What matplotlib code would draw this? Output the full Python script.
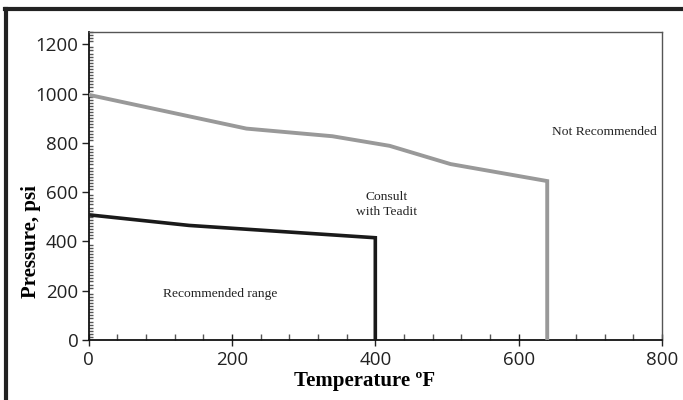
import matplotlib
matplotlib.use("Agg")
import matplotlib.pyplot as plt
from matplotlib.ticker import MultipleLocator
from matplotlib.lines import Line2D

# Data
gray_temp = [0, 220, 340, 420, 505, 640, 640]
gray_pres = [995, 858, 827, 788, 714, 645, 0]
black_temp = [0, 140, 400, 400]
black_pres = [508, 465, 415, 0]

labels = [("Recommended range", 183, 186),
          ("Consult\nwith Teadit", 416, 551),
          ("Not Recommended", 720, 843)]

fig = plt.figure(figsize=(6.83, 4.0), dpi=100)
ax = fig.add_axes([0.130, 0.15, 0.839, 0.77])

ax.plot(gray_temp, gray_pres, color="#999999", lw=2.8, solid_joinstyle="miter", zorder=3)
ax.plot(black_temp, black_pres, color="#1a1a1a", lw=2.6, solid_joinstyle="miter", zorder=3)

ax.set_xlim(0, 800)
ax.set_ylim(0, 1250)
ax.set_xticks([0, 200, 400, 600, 800])
ax.set_yticks([0, 200, 400, 600, 800, 1000, 1200])
ax.xaxis.set_minor_locator(MultipleLocator(40))
ax.yaxis.set_minor_locator(MultipleLocator(12.5))

ax.tick_params(axis="x", which="major", direction="inout", length=8, width=1, labelsize=13.5, color="#222", pad=4)
ax.tick_params(axis="x", which="minor", direction="in", length=4, width=1, color="#555")
ax.tick_params(axis="y", which="major", direction="out", length=5, width=1, labelsize=13.5, color="#222", pad=2.5)
ax.tick_params(axis="y", which="minor", direction="in", length=3, width=1, color="#555")
for lab in ax.get_xticklabels() + ax.get_yticklabels():
    lab.set_color("#222")
    lab.set_family("Open Sans")

for s in ["left", "bottom"]:
    ax.spines[s].set_color("#111")
    ax.spines[s].set_linewidth(1.3)
for s in ["top", "right"]:
    ax.spines[s].set_color("#555")
    ax.spines[s].set_linewidth(1.0)

ax.set_xlabel("Temperature ºF", fontsize=15, fontweight="bold", family="Liberation Serif")
ax.set_ylabel("Pressure, psi", fontsize=15, fontweight="bold", family="Liberation Serif")
ax.xaxis.set_label_coords(0.482, -0.100)
ax.yaxis.set_label_coords(-0.083, 0.318)

for txt, x, y in labels:
    ax.text(x, y, txt, ha="center", va="center", fontsize=9.7, family="Liberation Serif",
            color="#222", linespacing=1.3)

# outer frame: top and left borders
fig.add_artist(Line2D([0.008, 1.0], [0.977, 0.977], transform=fig.transFigure, color="#222", lw=3))
fig.add_artist(Line2D([0.009, 0.009], [0.0, 0.977], transform=fig.transFigure, color="#222", lw=3))

fig.savefig("out.png", dpi=100)
